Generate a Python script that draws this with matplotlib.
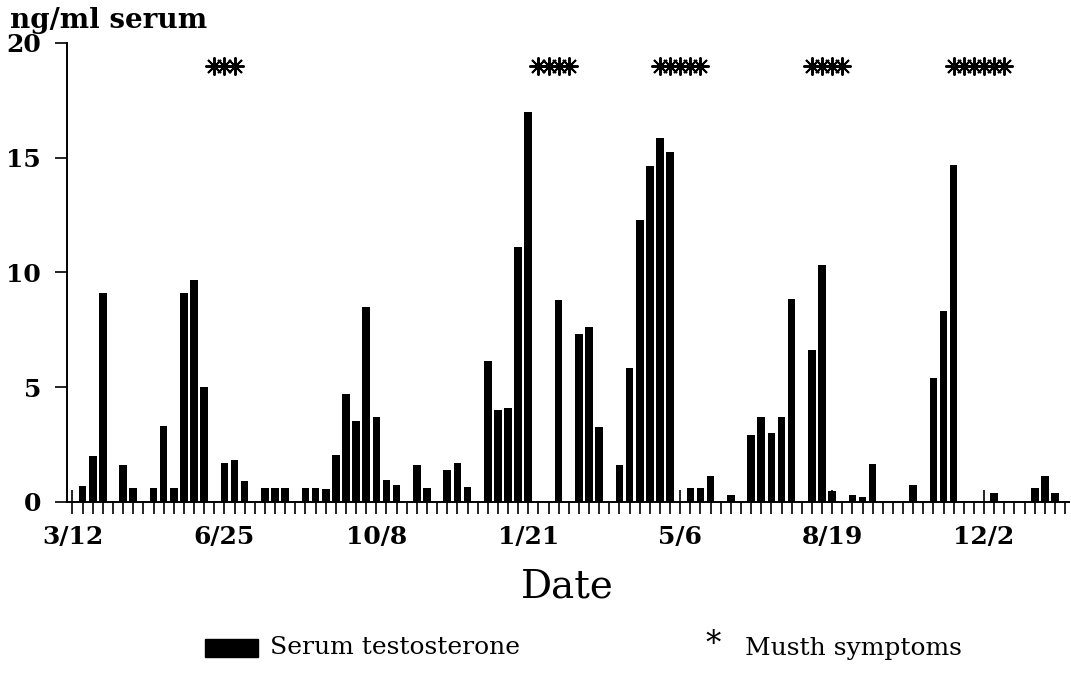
import matplotlib
matplotlib.use("Agg")
import matplotlib.pyplot as plt
from matplotlib.patches import Rectangle

# weekly samples, week 0 = 3/12
weeks = [1, 2, 3, 5, 6, 8, 9, 10, 11, 12, 13, 15, 16, 17, 19, 20, 21, 23, 24, 25,
         26, 27, 28, 29, 30, 31, 32, 34, 35, 37, 38, 39, 41, 42, 43, 44, 45, 48, 50, 51,
         52, 54, 55, 56, 57, 58, 59, 61, 62, 63, 65, 67, 68, 69, 70, 71, 73, 74, 75, 77,
         78, 79, 83, 85, 86, 87, 91, 95, 96, 97]
testosterone = [0.7, 2.0, 9.1, 1.6, 0.6, 0.6, 3.3, 0.6, 9.1, 9.65, 5.0, 1.7, 1.8, 0.9, 0.6, 0.6, 0.6, 0.6, 0.6, 0.55,
                2.05, 4.7, 3.5, 8.5, 3.7, 0.95, 0.75, 1.6, 0.6, 1.4, 1.7, 0.65, 6.15, 4.0, 4.1, 11.1, 17.0, 8.8, 7.3, 7.6,
                3.25, 1.6, 5.85, 12.3, 14.65, 15.85, 15.25, 0.6, 0.6, 1.1, 0.3, 2.9, 3.7, 3.0, 3.7, 8.85, 6.6, 10.3, 0.45, 0.3,
                0.2, 1.65, 0.75, 5.4, 8.3, 14.7, 0.4, 0.6, 1.1, 0.4]
musth_weeks = [14, 15, 16, 46, 47, 48, 49, 58, 59, 60, 61, 62, 73, 74, 75, 76, 87, 88, 89, 90, 91, 92]
musth_level = 19

label_weeks = [0, 15, 30, 45, 60, 75, 90]
date_labels = ['3/12', '6/25', '10/8', '1/21', '5/6', '8/19', '12/2']

serif = 'DejaVu Serif'

fig = plt.figure(figsize=(10.71, 6.75), dpi=100)
ax = fig.add_axes([0.0623, 0.2567, 0.9357, 0.6796])

ax.bar(weeks, testosterone, width=0.75, color='black')
ax.plot(musth_weeks, [musth_level] * len(musth_weeks), linestyle='none',
        marker=(8, 2, 0), markersize=13, markeredgewidth=1.4, color='black')

ax.set_xlim(-0.57, 98.37)
ax.set_ylim(0, 20)
ax.spines['top'].set_visible(False)
ax.spines['right'].set_visible(False)
ax.spines['left'].set_linewidth(1.4)
ax.spines['bottom'].set_linewidth(1.4)

ax.set_xticks(label_weeks)
ax.set_xticklabels(date_labels)
ax.set_xticks(range(0, 99), minor=True)
ax.tick_params(axis='x', which='major', direction='inout', length=17, width=1.2, pad=8)
ax.tick_params(axis='x', which='minor', direction='out', length=8.5, width=1.2)
ax.set_yticks([0, 5, 10, 15, 20])
ax.tick_params(axis='y', direction='out', length=8.5, width=1.2, pad=10)
for t in ax.get_xticklabels() + ax.get_yticklabels():
    t.set_family(serif)
    t.set_fontweight('bold')
    t.set_fontsize(18)

ax.set_xlabel('Date', family=serif, fontsize=28, labelpad=14)
fig.text(10 / 1071, 1 - 20 / 675, 'ng/ml serum', family=serif, fontweight='bold',
         fontsize=20, ha='left', va='center')

# legend row
ly = 1 - 648 / 675
fig.patches.append(Rectangle((205 / 1071, ly - 9 / 675), 53 / 1071, 18 / 675,
                             transform=fig.transFigure, color='black'))
fig.text(270 / 1071, ly, 'Serum testosterone', family=serif, fontsize=18,
         ha='left', va='center')
fig.text(713 / 1071, ly + 4 / 675, '*', family=serif, fontsize=22,
         ha='center', va='center')
fig.text(745 / 1071, ly, 'Musth symptoms', family=serif, fontsize=18,
         ha='left', va='center')

fig.savefig('out.png', dpi=100)
